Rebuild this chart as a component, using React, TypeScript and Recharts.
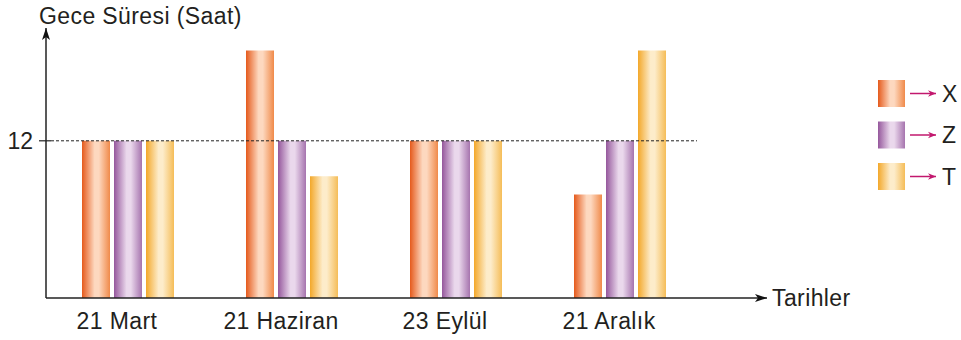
import React from 'react';
import { BarChart, Bar, XAxis, YAxis } from 'recharts';

const categories = ['21 Mart', '21 Haziran', '23 Eylül', '21 Aralık'];
const seriesX = [12, 18.9, 12, 7.9];
const seriesZ = [12, 12, 12, 12];
const seriesT = [12, 9.3, 12, 18.9];
const yTicks = [12];
const yTitle = 'Gece Süresi (Saat)';
const xTitle = 'Tarihler';

const series = [
  { key: 'X', name: 'X', grad: 'gradX', stops: ['#e55a1c', '#fdd8bf', '#f08a4a'] },
  { key: 'Z', name: 'Z', grad: 'gradZ', stops: ['#95579c', '#ead8ec', '#a674ae'] },
  { key: 'T', name: 'T', grad: 'gradT', stops: ['#f3a82a', '#fdecca', '#f5bd58'] },
];

const data = categories.map((c, i) => ({ name: c, X: seriesX[i], Z: seriesZ[i], T: seriesT[i] }));

const FONT = '"Liberation Sans", Arial, sans-serif';
const TEXT = '#231f20';
const GUIDE_LEN = 651;

function CategoryTick(props: any) {
  const { x, y, payload } = props;
  return (
    <text x={x} y={y} dx={-11} dy={23} textAnchor="middle" fontFamily={FONT} fontSize={23} letterSpacing={0.4} fill={TEXT}>
      {payload.value}
    </text>
  );
}

// tick mark, label and the dashed guide line at the same value
function ValueTick(props: any) {
  const { x, y, payload } = props;
  return (
    <g>
      <line x1={x + 5} x2={x + GUIDE_LEN} y1={y} y2={y} stroke="#222" strokeWidth={1} strokeDasharray="3 2" />
      <line x1={x - 7} x2={x + 5} y1={y} y2={y} stroke="#222" strokeWidth={1.2} />
      <text x={x - 13} y={y} dy={8} textAnchor="end" fontFamily={FONT} fontSize={23} fill={TEXT}>
        {payload.value}
      </text>
    </g>
  );
}

function LegendBox() {
  return (
    <svg width={80} height={120} style={{ position: 'absolute', left: 878, top: 80 }}>
      <defs>
        <marker id="legArrow" viewBox="0 0 10 10" refX="10" refY="5" markerWidth="8" markerHeight="8" markerUnits="userSpaceOnUse" orient="auto">
          <path d="M0,1 L10,5 L0,9 L3,5 Z" fill="#c2186e" />
        </marker>
      </defs>
      {series.map((s, i) => (
        <g key={s.key} transform={`translate(0, ${i * 41.5})`}>
          <rect x={0} y={0} width={27} height={27} fill={`url(#${s.grad})`} />
          <line x1={32} x2={58} y1={13.5} y2={13.5} stroke="#c2186e" strokeWidth={1.5} markerEnd="url(#legArrow)" />
          <text x={64} y={13.5} dy={8} fontFamily={FONT} fontSize={23} fill={TEXT}>{s.name}</text>
        </g>
      ))}
    </svg>
  );
}

export default function App() {
  return (
    <div style={{ position: 'absolute', left: 0, top: 0, width: 961, height: 340, background: '#fff' }}>
      <BarChart
        width={961}
        height={340}
        data={data}
        margin={{ top: 28, right: 194, bottom: 0, left: 45 }}
        barSize={28}
        barGap={4}
      >
        <defs>
          {series.map((s) => (
            <linearGradient key={s.grad} id={s.grad} x1="0" y1="0" x2="1" y2="0">
              <stop offset="0%" stopColor={s.stops[0]} />
              <stop offset="45%" stopColor={s.stops[1]} />
              <stop offset="60%" stopColor={s.stops[1]} />
              <stop offset="100%" stopColor={s.stops[2]} />
            </linearGradient>
          ))}
          <marker id="axArrow" viewBox="0 0 12 10" refX="12" refY="5" markerWidth="12" markerHeight="10" markerUnits="userSpaceOnUse" orient="auto-start-reverse">
            <path d="M0,1 L12,5 L0,9 L3,5 Z" fill="#111" />
          </marker>
        </defs>
        <XAxis
          dataKey="name"
          height={42}
          padding={{ left: 0, right: 65 }}
          tickLine={false}
          axisLine={{ stroke: '#222', strokeWidth: 1.5, markerEnd: 'url(#axArrow)' } as any}
          tick={<CategoryTick />}
          interval={0}
          label={{
            content: (p: any) => (
              <text x={p.viewBox.x + p.viewBox.width + 5} y={p.viewBox.y + 8} fontFamily={FONT} fontSize={23} letterSpacing={0.4} fill={TEXT}>
                {xTitle}
              </text>
            ),
          }}
        />
        <YAxis
          width={1}
          domain={[0, 20]}
          ticks={yTicks}
          padding={{ top: 8, bottom: 0 }}
          tickLine={false}
          tickSize={0}
          tickMargin={0}
          axisLine={{ stroke: '#222', strokeWidth: 1.5, markerStart: 'url(#axArrow)' } as any}
          tick={<ValueTick />}
          label={{
            content: (p: any) => (
              <text x={p.viewBox.x - 6} y={p.viewBox.y - 4} fontFamily={FONT} fontSize={23} letterSpacing={0.4} fill={TEXT}>
                {yTitle}
              </text>
            ),
          }}
        />
        {series.map((s) => (
          <Bar key={s.key} dataKey={s.key} fill={`url(#${s.grad})`} isAnimationActive={false} />
        ))}
      </BarChart>
      <LegendBox />
    </div>
  );
}
